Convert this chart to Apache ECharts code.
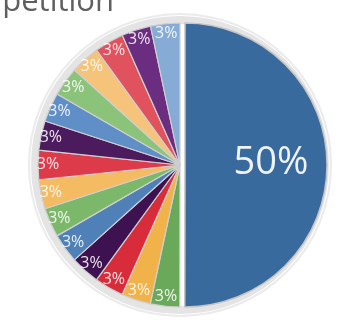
<!DOCTYPE html>
<html>
<head>
<meta charset="utf-8">
<script src="https://cdn.jsdelivr.net/npm/echarts@6/dist/echarts.min.js"></script>
<style>
  html, body { margin: 0; padding: 0; background: #ffffff; }
  #chart { width: 345px; height: 328px; }
</style>
</head>
<body>
<div id="chart"></div>
<script>
// Shares, clockwise from 12 o'clock: the leading half, then fifteen equal slices
const sliceNames = [
  'Leader',
  'C15', 'C14', 'C13', 'C12', 'C11', 'C10', 'C9', 'C8',
  'C7', 'C6', 'C5', 'C4', 'C3', 'C2', 'C1'
];
const sliceValues = [
  50,
  3.33, 3.33, 3.33, 3.33, 3.33, 3.33, 3.33, 3.33,
  3.33, 3.33, 3.33, 3.33, 3.33, 3.33, 3.33
];
const sliceColors = [
  '#386a9d',
  '#6aa95a', '#f2b24a', '#d92c3b', '#3e1250', '#4f80b8', '#7cb86a', '#f4bb62',
  '#de3b4a', '#4b1b5e', '#5f8fc6', '#8bc37a', '#f5c47a', '#e1525f', '#6a2d80', '#86abd4'
];
const titleText = 'Competition';

const chart = echarts.init(document.getElementById('chart'), null, { renderer: 'canvas' });

const center = [180, 165];
const fontFamily = '"Open Sans", "Noto Sans", sans-serif';
const total = sliceValues.reduce((a, b) => a + b, 0);
const pctText = p => Math.round(p.value / total * 100) + '%';

function items(extra) {
  return sliceNames.map((name, i) => Object.assign({
    name: name,
    value: sliceValues[i]
  }, extra ? extra(i) : {}));
}

const option = {
  animation: false,
  graphic: [{
    type: 'text',
    x: 114,
    y: 18,
    silent: true,
    style: {
      text: titleText,
      fontFamily: fontFamily,
      fontSize: 31,
      fill: '#5f5f5f',
      align: 'right',
      verticalAlign: 'bottom'
    }
  }],
  series: [
    // soft halo ring around the pie
    {
      type: 'pie',
      center: center,
      radius: [141, 149],
      silent: true,
      label: { show: false },
      labelLine: { show: false },
      data: [{ value: 1, itemStyle: { color: 'rgba(205,205,205,0.55)' } }]
    },
    {
      type: 'pie',
      center: center,
      radius: [150, 152],
      silent: true,
      label: { show: false },
      labelLine: { show: false },
      data: [{ value: 1, itemStyle: { color: 'rgba(215,215,215,0.5)' } }]
    },
    // main pie; only the leading slice carries its label here
    {
      type: 'pie',
      center: center,
      radius: [0, 142],
      startAngle: 90,
      clockwise: true,
      selectedMode: 'single',
      selectedOffset: 5,
      avoidLabelOverlap: false,
      label: {
        show: true,
        position: 'inside',
        formatter: pctText,
        color: 'rgba(255,255,255,0.92)',
        fontFamily: fontFamily,
        fontSize: 38
      },
      labelLayout: { dx: 12, dy: -2 },
      labelLine: { show: false },
      itemStyle: { borderColor: '#cfcfcf', borderWidth: 1.2 },
      select: {
        itemStyle: { borderColor: '#c4c4c4', borderWidth: 1.5 },
        label: { color: 'rgba(255,255,255,0.92)' }
      },
      data: items(i => ({
        selected: i === 0,
        itemStyle: { color: sliceColors[i] },
        label: { show: i === 0 }
      }))
    },
    // labels for the small slices, near the rim
    {
      type: 'pie',
      center: center,
      radius: [116, 142],
      startAngle: 90,
      silent: true,
      avoidLabelOverlap: false,
      itemStyle: { color: 'rgba(0,0,0,0)' },
      label: {
        show: true,
        position: 'inside',
        formatter: pctText,
        color: 'rgba(255,255,255,0.88)',
        fontFamily: fontFamily,
        fontSize: 16
      },
      labelLine: { show: false },
      data: items(i => ({ label: { show: i !== 0 } }))
    }
  ]
};

chart.setOption(option);
</script>
</body>
</html>
